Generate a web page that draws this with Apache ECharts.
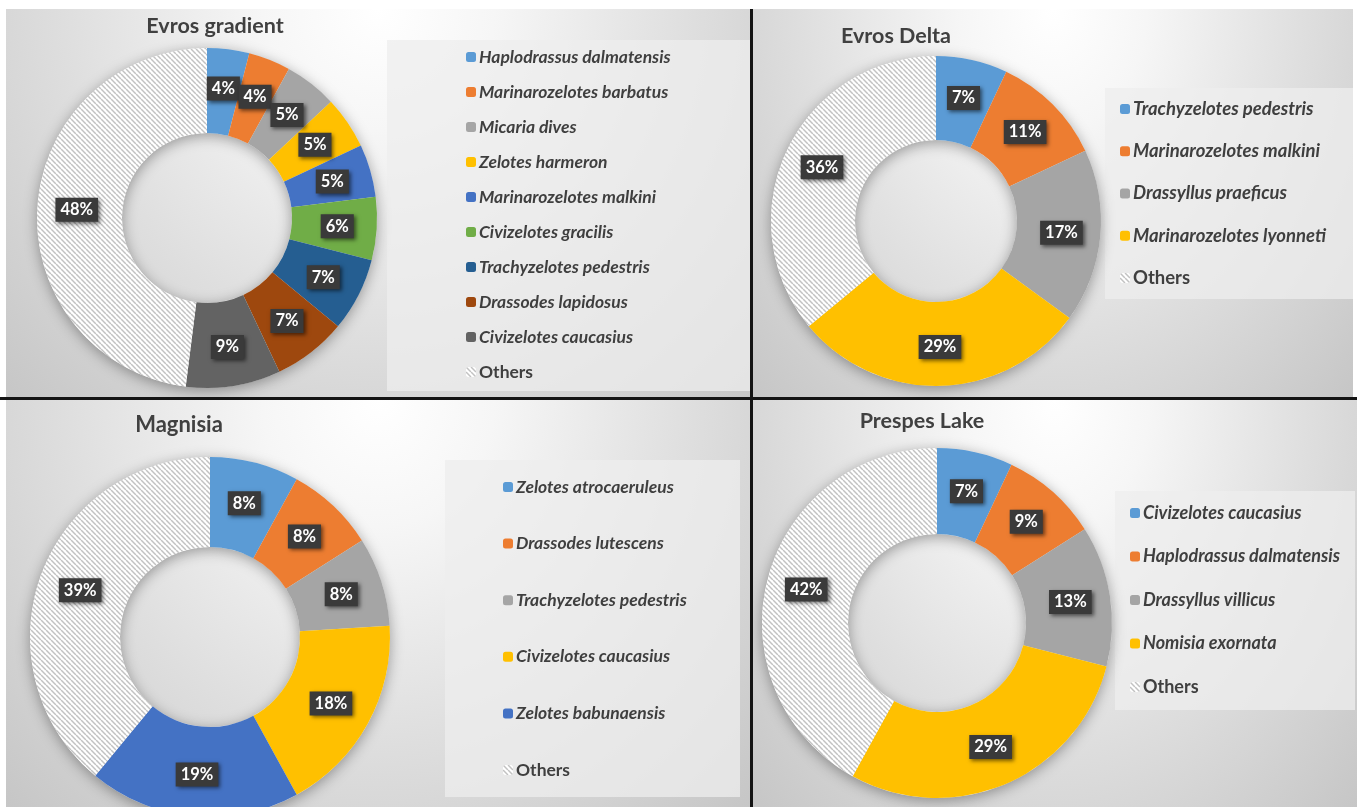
<!DOCTYPE html>
<html>
<head>
<meta charset="utf-8">
<script src="https://cdn.jsdelivr.net/npm/echarts@6/dist/echarts.min.js"></script>
<style>
  html, body { margin: 0; padding: 0; background: #ffffff; }
  body { width: 1357px; height: 807px; position: relative; overflow: hidden; }
  .panel { position: absolute;
    background: radial-gradient(ellipse farthest-corner at 50% 0%, #ffffff 0%, #f6f6f6 22%, #dedede 60%, #c6c6c6 100%); }
  .rule { position: absolute; background: #141414; }
</style>
</head>
<body>
<div id="c1" class="panel" style="left:6px;top:9px;width:745px;height:388px"></div>
<div id="c2" class="panel" style="left:753px;top:9px;width:600px;height:388px"></div>
<div id="c3" class="panel" style="left:6px;top:400px;width:745px;height:407px"></div>
<div id="c4" class="panel" style="left:753px;top:400px;width:604px;height:407px"></div>
<div class="rule" style="left:750px;top:9px;width:3px;height:798px"></div>
<div class="rule" style="left:0px;top:397px;width:1357px;height:3px"></div>
<script>
// ---------------- DATA ----------------
const evrosGradientTitle = 'Evros gradient';
const evrosGradientNames = ['Haplodrassus dalmatensis', 'Marinarozelotes barbatus', 'Micaria dives', 'Zelotes harmeron', 'Marinarozelotes malkini', 'Civizelotes gracilis', 'Trachyzelotes pedestris', 'Drassodes lapidosus', 'Civizelotes caucasius', 'Others'];
const evrosGradientValues = [4, 4, 5, 5, 5, 6, 7, 7, 9, 48];

const evrosDeltaTitle = 'Evros Delta';
const evrosDeltaNames = ['Trachyzelotes pedestris', 'Marinarozelotes malkini', 'Drassyllus praeficus', 'Marinarozelotes lyonneti', 'Others'];
const evrosDeltaValues = [7, 11, 17, 29, 36];

const magnisiaTitle = 'Magnisia';
const magnisiaNames = ['Zelotes atrocaeruleus', 'Drassodes lutescens', 'Trachyzelotes pedestris', 'Civizelotes caucasius', 'Zelotes babunaensis', 'Others'];
const magnisiaValues = [8, 8, 8, 18, 19, 39];

const prespesTitle = 'Prespes Lake';
const prespesNames = ['Civizelotes caucasius', 'Haplodrassus dalmatensis', 'Drassyllus villicus', 'Nomisia exornata', 'Others'];
const prespesValues = [7, 9, 13, 29, 42];

// ---------------- STYLES ----------------
const officePalette = ['#5B9BD5', '#ED7D31', '#A5A5A5', '#FFC000', '#4472C4', '#70AD47', '#255E91', '#9E480E', '#636363'];

function makeHatch() {
  const s = 5;
  const c = document.createElement('canvas');
  c.width = s; c.height = s;
  const ctx = c.getContext('2d');
  ctx.fillStyle = '#ffffff';
  ctx.fillRect(0, 0, s, s);
  ctx.strokeStyle = '#c2c2c2';
  ctx.lineWidth = 1.5;
  for (const x0 of [-s, 0, s]) {
    ctx.beginPath();
    ctx.moveTo(x0, 0);
    ctx.lineTo(x0 + s, s);
    ctx.stroke();
  }
  return { image: c, repeat: 'repeat' };
}
const hatch = makeHatch();

// ---------------- LAYOUT ----------------
const layouts = {
  c1: { cx: 201, cy: 209, r0: 85, r: 170, titleX: 209, titleY: 17, titleSize: 21.5,
        box: [381, 31, 363, 351], legendX: 460, legendTop: 38, gap: 15, fs: 17.5 },
  c2: { cx: 183, cy: 212, r0: 81, r: 165, titleX: 143, titleY: 27, titleSize: 21.5,
        box: [352, 79, 248, 211], legendX: 367, legendTop: 90, gap: 22.25, fs: 18.5 },
  c3: { cx: 204, cy: 237, r0: 90, r: 180, titleX: 173, titleY: 25, titleSize: 22,
        box: [439, 60, 295, 337], legendX: 497, legendTop: 77, gap: 36.6, fs: 17.5 },
  c4: { cx: 184, cy: 223, r0: 89, r: 175, titleX: 169, titleY: 21, titleSize: 21.5,
        box: [362, 91, 240, 219], legendX: 377, legendTop: 103, gap: 23.5, fs: 18 }
};

const FONT = 'Lato, "Open Sans", sans-serif';

function build(id, title, names, values) {
  const L = layouts[id];
  const chart = echarts.init(document.getElementById(id), null, { renderer: 'canvas' });
  const data = names.map((n, i) => ({
    name: n,
    value: values[i],
    itemStyle: { color: n === 'Others' ? hatch : officePalette[i] }
  }));
  chart.setOption({
    animation: false,
    graphic: [
      { type: 'rect', silent: true, z: 0,
        shape: { x: L.box[0], y: L.box[1], width: L.box[2], height: L.box[3] },
        style: { fill: 'rgba(238,238,238,0.75)' } },
      { type: 'text', silent: true, z: 10, x: L.titleX, y: L.titleY,
        style: { text: title, fill: '#404040', font: 'bold ' + L.titleSize + 'px ' + FONT,
                 textAlign: 'center', textVerticalAlign: 'middle' } }
    ],
    legend: {
      orient: 'vertical',
      left: L.legendX,
      top: L.legendTop,
      itemWidth: 10,
      itemHeight: 10,
      itemGap: L.gap,
      padding: 0,
      selectedMode: false,
      data: names,
      formatter: n => n === 'Others' ? '{o|' + n + '}' : '{i|' + n + '}',
      textStyle: {
        lineHeight: 20,
        rich: {
          i: { fontFamily: FONT, fontStyle: 'italic', fontWeight: 'bold', fontSize: L.fs, color: '#3f3f3f', lineHeight: 20, padding: [0, 0, 0, -2] },
          o: { fontFamily: FONT, fontWeight: 'bold', fontSize: L.fs, color: '#3f3f3f', lineHeight: 20, padding: [0, 0, 0, -2] }
        }
      }
    },
    series: [
      {
        type: 'pie', silent: true, z: 1,
        center: [L.cx, L.cy], radius: [L.r0, L.r],
        label: { show: false }, labelLine: { show: false },
        data: [{ name: '_ring', value: 1, itemStyle: { color: '#eeeeee', shadowBlur: 14, shadowColor: 'rgba(0,0,0,0.35)', shadowOffsetY: 3 } }]
      },
      {
        type: 'pie', z: 2,
        center: [L.cx, L.cy], radius: [L.r0, L.r],
        startAngle: 90, clockwise: true,
        avoidLabelOverlap: false,
        minShowLabelAngle: 0,
        labelLayout: { hideOverlap: false },
        itemStyle: { borderWidth: 0 },
        label: {
          show: true, position: 'inside',
          formatter: p => p.value + '%',
          color: '#ffffff', fontFamily: FONT, fontWeight: 'bold', fontSize: 16.5,
          backgroundColor: '#3a3a3a', padding: [4, 5, 3, 5],
          shadowBlur: 4, shadowColor: 'rgba(0,0,0,0.55)', shadowOffsetX: 2, shadowOffsetY: 2
        },
        labelLine: { show: false },
        data: data
      }
    ]
  });
}

build('c1', evrosGradientTitle, evrosGradientNames, evrosGradientValues);
build('c2', evrosDeltaTitle, evrosDeltaNames, evrosDeltaValues);
build('c3', magnisiaTitle, magnisiaNames, magnisiaValues);
build('c4', prespesTitle, prespesNames, prespesValues);
</script>
</body>
</html>
